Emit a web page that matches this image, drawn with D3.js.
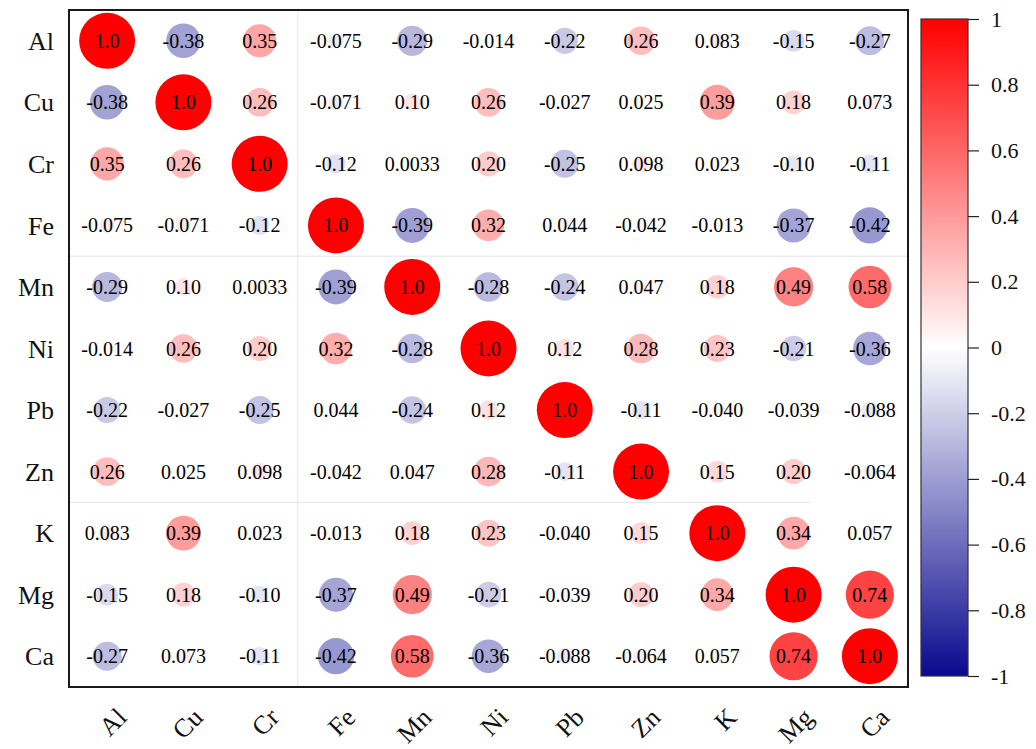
<!DOCTYPE html>
<html>
<head>
<meta charset="utf-8">
<script src="https://cdn.jsdelivr.net/npm/d3@7"></script>
<style>
  html, body { margin: 0; padding: 0; background: #fff; }
  svg { display: block; font-family: "Liberation Serif", "Times New Roman", serif; }
</style>
</head>
<body>
<svg id="chart" width="1036" height="749"></svg>
<script>
// Element names (rows top-to-bottom, columns left-to-right)
const elements = ["Al", "Cu", "Cr", "Fe", "Mn", "Ni", "Pb", "Zn", "K", "Mg", "Ca"];

// Pearson correlation coefficients, one array per element
const rAl = [1.0, -0.38, 0.35, -0.075, -0.29, -0.014, -0.22, 0.26, 0.083, -0.15, -0.27];
const rCu = [-0.38, 1.0, 0.26, -0.071, 0.10, 0.26, -0.027, 0.025, 0.39, 0.18, 0.073];
const rCr = [0.35, 0.26, 1.0, -0.12, 0.0033, 0.20, -0.25, 0.098, 0.023, -0.10, -0.11];
const rFe = [-0.075, -0.071, -0.12, 1.0, -0.39, 0.32, 0.044, -0.042, -0.013, -0.37, -0.42];
const rMn = [-0.29, 0.10, 0.0033, -0.39, 1.0, -0.28, -0.24, 0.047, 0.18, 0.49, 0.58];
const rNi = [-0.014, 0.26, 0.20, 0.32, -0.28, 1.0, 0.12, 0.28, 0.23, -0.21, -0.36];
const rPb = [-0.22, -0.027, -0.25, 0.044, -0.24, 0.12, 1.0, -0.11, -0.040, -0.039, -0.088];
const rZn = [0.26, 0.025, 0.098, -0.042, 0.047, 0.28, -0.11, 1.0, 0.15, 0.20, -0.064];
const rK  = [0.083, 0.39, 0.023, -0.013, 0.18, 0.23, -0.040, 0.15, 1.0, 0.34, 0.057];
const rMg = [-0.15, 0.18, -0.10, -0.37, 0.49, -0.21, -0.039, 0.20, 0.34, 1.0, 0.74];
const rCa = [-0.27, 0.073, -0.11, -0.42, 0.58, -0.36, -0.088, -0.064, 0.057, 0.74, 1.0];

const matrix = [rAl, rCu, rCr, rFe, rMn, rNi, rPb, rZn, rK, rMg, rCa];

// Colour bar ticks
const legendTicks = [1, 0.8, 0.6, 0.4, 0.2, 0, -0.2, -0.4, -0.6, -0.8, -1];

// Flatten into cells
const cells = [];
matrix.forEach((row, i) => row.forEach((v, j) => cells.push({ row: elements[i], col: elements[j], value: v })));

const svg = d3.select("#chart");

const plot = { left: 69, top: 10, right: 908, bottom: 687 };

const x = d3.scaleBand().domain(elements).range([plot.left, plot.right]);
const y = d3.scaleBand().domain(elements).range([plot.top, plot.bottom]);

// Diverging colour: dark blue -> white -> red
const color = d3.scaleLinear()
  .domain([-1, 0, 1])
  .range(["#0a0a8f", "#ffffff", "#ff0000"])
  .interpolate(d3.interpolateRgb);

// Circle area proportional to |r|
const radius = d3.scaleSqrt().domain([0, 1]).range([0, 28]);

// Hyphen-minus number formatting
const locale = d3.formatLocale({ decimal: ".", thousands: ",", grouping: [3], currency: ["", ""], minus: "-" });
const fmtCell = locale.format(".2r");
const fmtTick = locale.format("");

// Faint cell separators
const sepG = svg.append("g").attr("stroke", "#e4e4e4").attr("stroke-width", 1);
sepG.append("line")
  .attr("x1", x("Fe")).attr("x2", x("Fe"))
  .attr("y1", plot.top).attr("y2", plot.bottom);
sepG.append("line")
  .attr("x1", plot.left).attr("x2", plot.right)
  .attr("y1", y("Mn")).attr("y2", y("Mn"));
sepG.append("line")
  .attr("x1", plot.left).attr("x2", x("Ca") - 22)
  .attr("y1", y("K")).attr("y2", y("K"));

// Circles
svg.append("g").selectAll("circle")
  .data(cells)
  .join("circle")
  .attr("cx", d => x(d.col) + x.bandwidth() / 2)
  .attr("cy", d => y(d.row) + y.bandwidth() / 2)
  .attr("r", d => radius(Math.abs(d.value)))
  .attr("fill", d => color(d.value));

// Coefficient labels
svg.append("g").selectAll("text")
  .data(cells)
  .join("text")
  .attr("x", d => x(d.col) + x.bandwidth() / 2)
  .attr("y", d => y(d.row) + y.bandwidth() / 2)
  .attr("dy", "0.35em")
  .attr("text-anchor", "middle")
  .attr("font-size", 20)
  .attr("fill", "#000")
  .text(d => fmtCell(d.value));

// Plot frame
svg.append("rect")
  .attr("x", plot.left).attr("y", plot.top)
  .attr("width", plot.right - plot.left).attr("height", plot.bottom - plot.top)
  .attr("fill", "none").attr("stroke", "#1a1a1a").attr("stroke-width", 2);

// Row labels
svg.append("g").selectAll("text")
  .data(elements)
  .join("text")
  .attr("x", 54)
  .attr("y", d => y(d) + y.bandwidth() / 2)
  .attr("dy", "0.35em")
  .attr("text-anchor", "end")
  .attr("font-size", 26)
  .attr("fill", "#111")
  .text(d => d);

// Column labels, rotated
svg.append("g").selectAll("text")
  .data(elements)
  .join("text")
  .attr("text-anchor", "end")
  .attr("font-size", 26)
  .attr("fill", "#111")
  .attr("transform", d => `translate(${x(d) + x.bandwidth() / 2 + 21},${plot.bottom + 32}) rotate(-45)`)
  .text(d => d);

// Colour bar
const bar = { x: 921, w: 47, top: 19, bottom: 676 };
const ly = d3.scaleLinear().domain([-1, 1]).range([bar.bottom, bar.top]);

const defs = svg.append("defs");
const grad = defs.append("linearGradient")
  .attr("id", "corrGrad")
  .attr("x1", 0).attr("x2", 0).attr("y1", 1).attr("y2", 0);
d3.range(0, 1.0001, 0.05).forEach(t => {
  const v = -1 + 2 * t;
  grad.append("stop").attr("offset", t).attr("stop-color", color(v));
});

svg.append("rect")
  .attr("x", bar.x).attr("y", bar.top)
  .attr("width", bar.w).attr("height", bar.bottom - bar.top)
  .attr("fill", "url(#corrGrad)")
  .attr("stroke", "#333").attr("stroke-width", 1.2);

const legendAxis = d3.axisRight(ly)
  .tickValues(legendTicks)
  .tickSize(11)
  .tickPadding(12)
  .tickFormat(fmtTick);

const lg = svg.append("g")
  .attr("transform", `translate(${bar.x + bar.w},0)`)
  .call(legendAxis);
lg.select(".domain").remove();
lg.selectAll(".tick line").attr("stroke", "#222").attr("stroke-width", 1.2);
lg.selectAll(".tick text")
  .attr("font-family", "Liberation Serif, Times New Roman, serif")
  .attr("font-size", 22)
  .attr("fill", "#111");
</script>
</body>
</html>
